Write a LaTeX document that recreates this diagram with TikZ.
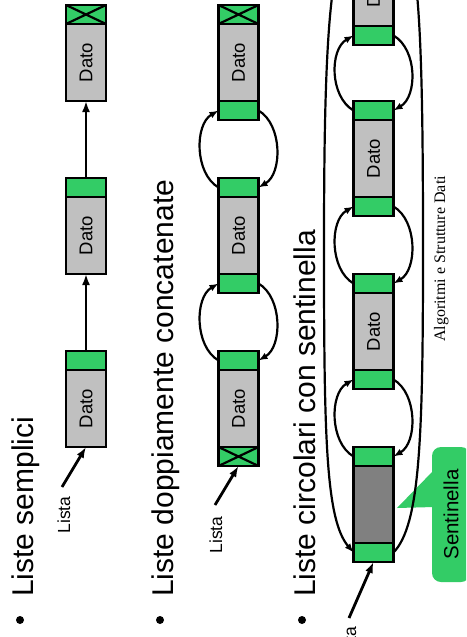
\documentclass[tikz,border=0pt]{standalone}
\usepackage{fontspec}
\usepackage{graphicx}
\setmainfont{Liberation Sans}
\newfontfamily\footerfont{Liberation Serif}
\usetikzlibrary{arrows.meta}
\definecolor{cellgreen}{RGB}{51,204,102}
\definecolor{datagray}{RGB}{192,192,192}
\definecolor{sentgray}{RGB}{128,128,128}
\tikzset{
  cell/.style={draw=black, line width=2.8pt, minimum width=40pt, inner sep=0pt, outer sep=0pt},
  ptrcell/.style={cell, fill=cellgreen, minimum height=19pt},
  datacell/.style={cell, fill=datagray, minimum height=77pt, font=\fontsize{18.5}{20}\selectfont},
  sentcell/.style={cell, fill=sentgray, minimum height=77pt},
  nullmark/.style={line width=2.2pt},
  link/.style={line width=2.2pt, -{Latex[length=9pt,width=7pt]}},
  ptr/.style={line width=2.8pt, -{Latex[length=11pt,width=8pt]}},
  heading/.style={rotate=90, anchor=base west, inner sep=0pt, font=\fontsize{30}{36}\selectfont},
  headlabel/.style={rotate=90, anchor=base, inner sep=0pt, font=\fontsize{17.5}{20}\selectfont},
  bullet/.style={circle, fill=black, inner sep=0pt, minimum size=8pt},
  callout/.style={fill=cellgreen, rounded corners=9pt, minimum width=38pt, minimum height=135pt, inner sep=0pt, font=\fontsize{20.5}{24}\selectfont},
}
\newcommand{\dato}{\rotatebox{90}{Dato}}
\newcommand{\crossout}[1]{\draw[nullmark] (#1.north west) -- (#1.south east) (#1.north east) -- (#1.south west);}

\begin{document}
\begin{tikzpicture}[x=1pt,y=-1pt]
\path[use as bounding box] (0,0) rectangle (466,637);
\fill[white] (0,0) rectangle (466,637);
\clip (0,0) rectangle (466,637);

% ---------- headings ----------
\node[bullet] (b1) at (20,620) {};
\node[heading] (h1) at (33,597) {Liste semplici};
\node[bullet] (b2) at (160,620) {};
\node[heading] (h2) at (173,597) {Liste doppiamente concatenate};
\node[bullet] (b3) at (302,620) {};
\node[heading] (h3) at (315,597) {Liste circolari con sentinella};

% ---------- simple list ----------
\node[ptrcell]  (l1an) at (86,360.5) {};
\node[datacell] (l1ad) at (86,408.5) {\dato};
\node[ptrcell]  (l1bn) at (86,187.5) {};
\node[datacell] (l1bd) at (86,235.5) {\dato};
\node[ptrcell]  (l1cn) at (86,14.5) {};
\node[datacell] (l1cd) at (86,62.5) {\dato};
\crossout{l1cn}
\draw[ptr] (l1an.north) -- (l1bd.south);
\draw[ptr] (l1bn.north) -- (l1cd.south);
\node[headlabel] (lab1) at (70,515) {Lista};
\coordinate (lp1) at (62,487);
\draw[ptr] (lp1) -- (l1ad.south);

% ---------- doubly linked list ----------
\node[ptrcell]  (l2an) at (238.5,360.5) {};
\node[datacell] (l2ad) at (238.5,408.5) {\dato};
\node[ptrcell]  (l2ap) at (238.5,456.5) {};
\node[ptrcell]  (l2bn) at (238.5,187.5) {};
\node[datacell] (l2bd) at (238.5,235.5) {\dato};
\node[ptrcell]  (l2bp) at (238.5,283.5) {};
\node[ptrcell]  (l2cn) at (238.5,14.5) {};
\node[datacell] (l2cd) at (238.5,62.5) {\dato};
\node[ptrcell]  (l2cp) at (238.5,110.5) {};
\crossout{l2ap}
\crossout{l2cn}
\draw[link] (l2bn.west) .. controls +(-24,-14) and +(-24,14) .. (l2cp.west);
\draw[link] (l2cp.east) .. controls +(24,14) and +(24,-14) .. (l2bn.east);
\draw[link] (l2an.west) .. controls +(-24,-14) and +(-24,14) .. (l2bp.west);
\draw[link] (l2bp.east) .. controls +(24,14) and +(24,-14) .. (l2an.east);
\node[headlabel] (lab2) at (222,535) {Lista};
\coordinate (lp2) at (215,505);
\draw[ptr] (lp2) -- (l2ap.south);

% ---------- circular list with sentinel ----------
\fill[cellgreen] (397,508) -- (434,470) -- (434,507) -- cycle;
\node[callout] (sentlabel) at (451,514.5) {\rotatebox{90}{Sentinella}};

\node[ptrcell]  (sn) at (373.5,456.5) {};
\node[sentcell] (sd) at (373.5,504.5) {};
\node[ptrcell]  (sp) at (373.5,552.5) {};
\node[ptrcell]  (n2n) at (373.5,283.5) {};
\node[datacell] (n2d) at (373.5,331.5) {\dato};
\node[ptrcell]  (n2p) at (373.5,379.5) {};
\node[ptrcell]  (n3n) at (373.5,110.5) {};
\node[datacell] (n3d) at (373.5,158.5) {\dato};
\node[ptrcell]  (n3p) at (373.5,206.5) {};
\node[ptrcell]  (n4n) at (373.5,-60.5) {};
\node[datacell] (n4d) at (373.5,-12.5) {\dato};
\node[ptrcell]  (n4p) at (373.5,35.5) {};

\draw[link] (sn.west) .. controls +(-24,-14) and +(-24,14) .. (n2p.west);
\draw[link] (n2p.east) .. controls +(24,14) and +(24,-14) .. (sn.east);
\draw[link] (n2n.west) .. controls +(-24,-14) and +(-24,14) .. (n3p.west);
\draw[link] (n3p.east) .. controls +(24,14) and +(24,-14) .. (n2n.east);
\draw[link] (n3n.west) .. controls +(-24,-14) and +(-24,14) .. (n4p.west);
\draw[link] (n4p.east) .. controls +(24,14) and +(24,-14) .. (n3n.east);

% wrap-around links between the last node and the sentinel
\draw[link] (n4n.west) .. controls (327,-60.5) and (324,80) .. (324,250)
            .. controls (324,440) and (326,520) .. (sp.west);
\draw[link] (sp.east) .. controls (420,525) and (423,440) .. (423,250)
            .. controls (423,80) and (421,-60.5) .. (n4n.east);

\node[headlabel] (lab3) at (356,645) {Lista};
\coordinate (lp3) at (349,618);
\draw[ptr] (lp3) -- (sp.south);

% ---------- footer ----------
\node[rotate=90, anchor=base, inner sep=0pt, font=\footerfont\fontsize{16}{18}\selectfont] (foot) at (445,259) {Algoritmi e Strutture Dati};
\end{tikzpicture}
\end{document}
